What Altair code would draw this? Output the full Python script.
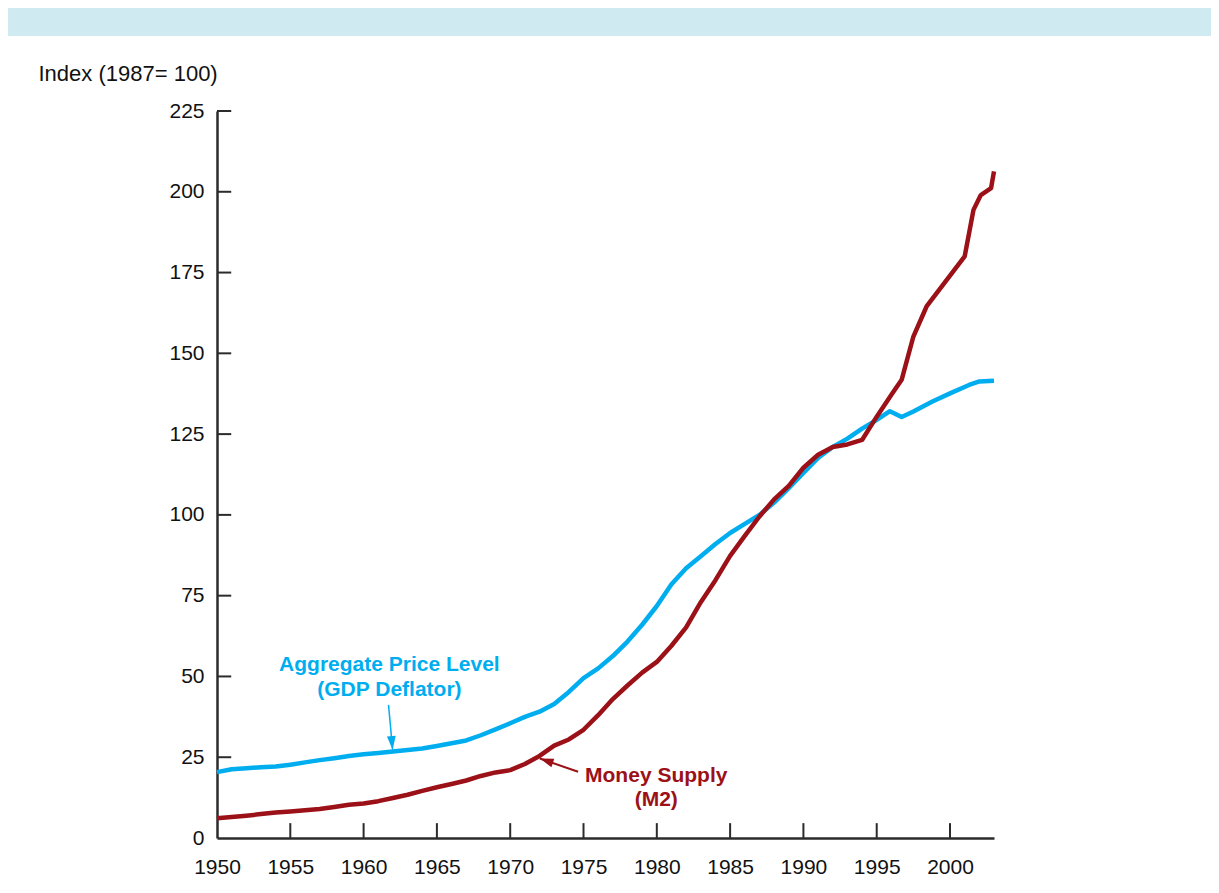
import altair as alt
import pandas as pd

# ---------------- data ----------------
gdp_years = [1950, 1951, 1952, 1953, 1954, 1955, 1956, 1957, 1958, 1959,
             1960, 1961, 1962, 1963, 1964, 1965, 1966, 1967, 1968, 1969,
             1970, 1971, 1972, 1973, 1974, 1975, 1976, 1977, 1978, 1979,
             1980, 1981, 1982, 1983, 1984, 1985, 1986, 1987, 1988, 1989,
             1990, 1991, 1992, 1993, 1994, 1995, 1995.9, 1996.7, 1997.5,
             1998.8, 2000, 2001.3, 2002, 2003]
gdp_values = [20.4, 21.3, 21.6, 21.9, 22.1, 22.7, 23.4, 24.1, 24.7, 25.4,
              25.9, 26.3, 26.8, 27.2, 27.7, 28.5, 29.3, 30.2, 31.8, 33.6,
              35.5, 37.5, 39.1, 41.5, 45.2, 49.5, 52.5, 56.3, 60.8, 66.0,
              71.8, 78.5, 83.5, 87.2, 91.0, 94.4, 97.2, 100.0, 103.8, 108.3,
              113.0, 117.6, 121.0, 123.6, 126.7, 129.4, 132.1, 130.3, 132.0,
              135.1, 137.6, 140.2, 141.3, 141.5]

m2_years = [1950, 1951, 1952, 1953, 1954, 1955, 1956, 1957, 1958, 1959,
            1960, 1961, 1962, 1963, 1964, 1965, 1966, 1967, 1968, 1969,
            1970, 1971, 1972, 1973, 1974, 1975, 1976, 1977, 1978, 1979,
            1980, 1981, 1982, 1983, 1984, 1985, 1986, 1987, 1988, 1989,
            1990, 1991, 1992, 1993, 1994, 1995, 1996, 1996.7, 1997.5,
            1998.4, 2001, 2001.6, 2002.1, 2002.8, 2003]
m2_values = [6.1, 6.5, 6.9, 7.4, 7.9, 8.2, 8.6, 9.0, 9.6, 10.3,
             10.7, 11.4, 12.4, 13.4, 14.6, 15.7, 16.7, 17.8, 19.2, 20.3,
             21.0, 22.9, 25.4, 28.6, 30.5, 33.5, 38.0, 43.0, 47.2, 51.2,
             54.5, 59.5, 65.2, 73.0, 79.8, 87.3, 93.5, 99.5, 104.8, 109.0,
             114.6, 118.6, 121.0, 121.8, 123.2, 130.4, 137.2, 141.8, 155.2,
             164.5, 180.0, 194.4, 199.0, 201.1, 206.3]

series_names = ["Aggregate Price Level (GDP Deflator)", "Money Supply (M2)"]
x_tick_values = list(range(1950, 2001, 5))
y_tick_values = list(range(0, 226, 25))

# annotation texts and their anchor points (data units)
gdp_label_lines = ["Aggregate Price Level", "(GDP Deflator)"]
gdp_label_x = [1961.76, 1961.76]
gdp_label_y = [51.8, 43.8]
m2_label_lines = ["Money Supply", "(M2)"]
m2_label_x = [1979.96, 1979.96]
m2_label_y = [17.4, 9.9]

# arrows: tail -> tip (data units)
gdp_arrow = {"x": [1961.70], "y": [41.2], "x2": [1961.98], "y2": [27.3]}
m2_arrow = {"x": [1974.63], "y": [20.5], "x2": [1972.02], "y2": [24.6]}

# ---------------- styling ----------------
BLUE = "#00AEEF"
RED = "#9B1117"
BAND = "#CFEBF1"
AXIS = "#2b2b2b"
FONT = "Liberation Sans"
W, H = 777, 727

df = pd.DataFrame({
    "year": gdp_years + m2_years,
    "value": gdp_values + m2_values,
    "series": [series_names[0]] * len(gdp_years) + [series_names[1]] * len(m2_years),
})

xs = alt.Scale(domain=[1950, 2003], nice=False, zero=False)
ys = alt.Scale(domain=[0, 225], nice=False)

X_AXIS = alt.Axis(
    values=x_tick_values, format="d", title="", grid=False, ticks=False,
    tickSize=0, labelPadding=18, labelFontSize=21, labelFont=FONT,
    labelFlush=False, labelOverlap=False,
    labelColor="#111", domainColor=AXIS, domainWidth=2.5)
Y_AXIS = alt.Axis(
    values=y_tick_values, title="Index (1987= 100)", grid=False, ticks=False,
    tickSize=0, labelPadding=13, labelFontSize=21, labelFont=FONT,
    labelFlush=False, labelOverlap=False,
    labelColor="#111", domainColor=AXIS, domainWidth=2.5,
    titleAngle=0, titleAlign="left", titleBaseline="alphabetic",
    titleX=-179, titleY=-31, titleFont=FONT, titleFontSize=22,
    titleFontWeight="normal", titleColor="#111")


def X(field):
    return alt.X(field, scale=xs, axis=X_AXIS)


def Y(field):
    return alt.Y(field, scale=ys, axis=Y_AXIS)


band = alt.Chart(pd.DataFrame({"a": [0]})).mark_rect(color=BAND).encode(
    x=alt.value(-209), x2=alt.value(994), y=alt.value(-103), y2=alt.value(-75)
)

lines = alt.Chart(df).mark_line(strokeWidth=4.5, strokeJoin="round").encode(
    x=X("year:Q"),
    y=Y("value:Q"),
    color=alt.Color("series:N", scale=alt.Scale(domain=series_names, range=[BLUE, RED]),
                    legend=None),
)

xt_df = pd.DataFrame({"t": x_tick_values[1:], "lo": 0.0, "hi": 4.6})
xt = alt.Chart(xt_df).mark_rule(color=AXIS, strokeWidth=2).encode(
    x=X("t:Q"), y=Y("lo:Q"), y2="hi:Q")

yt_df = pd.DataFrame({"v": y_tick_values[1:], "lo": 1950.0, "hi": 1950.97})
yt = alt.Chart(yt_df).mark_rule(color=AXIS, strokeWidth=2).encode(
    y=Y("v:Q"), x=X("lo:Q"), x2="hi:Q")


def label_layer(xv, yv, txt, color):
    d = pd.DataFrame({"x": xv, "y": yv, "text": txt})
    return alt.Chart(d).mark_text(
        font=FONT, fontSize=21, fontWeight="bold", color=color,
        align="center", baseline="alphabetic").encode(
        x=X("x:Q"), y=Y("y:Q"), text="text:N")


HEAD = "M0,0 L-0.32,1 L0.32,1 Z"


def arrow_layers(a, color, width, angle):
    d = pd.DataFrame(a)
    shaft = alt.Chart(d).mark_rule(color=color, strokeWidth=width).encode(
        x=X("x:Q"), y=Y("y:Q"), x2="x2:Q", y2="y2:Q")
    head = alt.Chart(d).mark_point(shape=HEAD, filled=True, color=color,
                                   opacity=1, size=760, strokeWidth=0).encode(
        x=X("x2:Q"), y=Y("y2:Q"), angle=alt.value(angle))
    return [shaft, head]


layers = [band, lines, xt, yt,
          label_layer(gdp_label_x, gdp_label_y, gdp_label_lines, BLUE),
          label_layer(m2_label_x, m2_label_y, m2_label_lines, RED)]
layers += arrow_layers(gdp_arrow, BLUE, 1.5, 174.5)
layers += arrow_layers(m2_arrow, RED, 2, 289)

chart = alt.layer(*layers).properties(
    width=W, height=H,
    autosize=alt.AutoSizeParams(type="none"),
    padding={"left": 209, "top": 103, "right": 217, "bottom": 40},
    background="white",
).configure_view(stroke="transparent")

chart.save("out.html", embed_options={"renderer": "svg", "actions": False})
